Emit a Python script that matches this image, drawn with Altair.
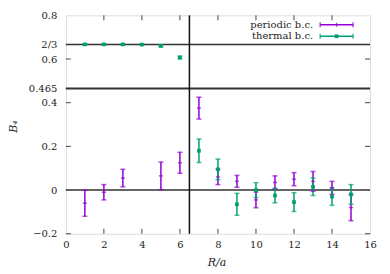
import altair as alt
import pandas as pd

# periodic b.c.
per_x = [1, 2, 3, 5, 6, 7, 8, 9, 10, 11, 12, 13, 14, 15]
per_y = [-0.06, -0.01, 0.055, 0.065, 0.125, 0.375, 0.06, 0.04, -0.045, 0.035, 0.05, 0.04, 0.01, -0.08]
per_e = [0.06, 0.035, 0.04, 0.063, 0.048, 0.05, 0.035, 0.027, 0.036, 0.03, 0.03, 0.045, 0.03, 0.06]
# thermal b.c.
th_x = [1, 2, 3, 4, 5, 6, 7, 8, 9, 10, 11, 12, 13, 14, 15]
th_y = [0.667, 0.667, 0.667, 0.666, 0.66, 0.607, 0.18, 0.095, -0.065, 0.0, -0.025, -0.055, 0.015, -0.03, -0.02]
th_e = [0.003, 0.003, 0.003, 0.003, 0.004, 0.006, 0.054, 0.047, 0.05, 0.034, 0.033, 0.043, 0.04, 0.04, 0.045]

series_names = ["periodic b.c.", "thermal b.c."]
colors = ["#9400D3", "#009E73"]
hlines = [2 / 3, 0.465, 0.0]
vline = [6.5]
y_ticks = [-0.2, 0, 0.2, 0.4, 0.465, 0.6, 2 / 3, 0.8]
y_minor = [-0.2, 0.2, 0.4, 0.6]
x_ticks = list(range(0, 17, 2))
x_minor = list(range(2, 15, 2))

W, H = 305, 219
FONT = "DejaVu Serif"

rows = []
for x, y, e in zip(per_x, per_y, per_e):
    rows.append(dict(x=x, y=y, lo=y - e, hi=y + e, s=series_names[0]))
for x, y, e in zip(th_x, th_y, th_e):
    rows.append(dict(x=x, y=y, lo=y - e, hi=y + e, s=series_names[1]))
df = pd.DataFrame(rows)

xs = alt.Scale(domain=[0, 16], nice=False, zero=False)
ys = alt.Scale(domain=[-0.2, 0.8], nice=False, zero=False)
cs = alt.Scale(domain=series_names, range=colors)

label_expr = ("abs(datum.value-0.6667)<0.001 ? '2/3' : abs(datum.value-0.465)<0.0001 ? '0.465' : "
              "replace(format(datum.value, '.1~f'), '-', '\u2212')")

xaxis = alt.Axis(values=x_ticks, ticks=False, grid=False, domain=False,
                 labelPadding=6, labelFontSize=10, labelFont=FONT,
                 labelColor="#222", format="d", labelOverlap=False, labelFlush=False,
                 title="R/a", titleFont=FONT, titleFontStyle="italic",
                 titleFontWeight="normal", titleFontSize=11,
                 titleX=151, titleY=29, titleBaseline="middle", titleColor="#222")
yaxis = alt.Axis(values=y_ticks, labelExpr=label_expr, ticks=False, grid=False,
                 domain=False, labelPadding=9, labelFontSize=10, labelFont=FONT,
                 labelColor="#222", labelOverlap=False, labelFlush=False,
                 title="B\u2084", titleFont=FONT, titleFontStyle="italic",
                 titleFontWeight="normal", titleFontSize=11, titleAngle=-90,
                 titleX=-52, titleY=111, titleAlign="center",
                 titleBaseline="middle", titleColor="#222")


def X(f):
    return alt.X(f, scale=xs, axis=xaxis)


def Y(f):
    return alt.Y(f, scale=ys, axis=yaxis)


base = alt.Chart(df)

hl = alt.Chart(pd.DataFrame({"y": hlines, "w": [1.5, 2.2, 1.5]})).mark_rule(color="#333").encode(
    y=Y("y:Q"), strokeWidth=alt.StrokeWidth("w:Q", scale=None))
vl = alt.Chart(pd.DataFrame({"x": vline})).mark_rule(color="#111", strokeWidth=1.5).encode(
    x=X("x:Q"))

ytl = alt.Chart(pd.DataFrame({"y": y_minor})).mark_rule(color="#444", strokeWidth=1).encode(
    y=Y("y:Q"), x=alt.value(0), x2=alt.value(5))
ytr = alt.Chart(pd.DataFrame({"y": y_minor})).mark_rule(color="#444", strokeWidth=1).encode(
    y=Y("y:Q"), x=alt.value(W - 5), x2=alt.value(W))
xtb = alt.Chart(pd.DataFrame({"x": x_minor})).mark_rule(color="#444", strokeWidth=1).encode(
    x=X("x:Q"), y=alt.value(H - 5), y2=alt.value(H))
xtt = alt.Chart(pd.DataFrame({"x": x_minor})).mark_rule(color="#444", strokeWidth=1).encode(
    x=X("x:Q"), y=alt.value(0), y2=alt.value(5))

col = alt.Color("s:N", scale=cs, legend=None)
bars = base.mark_rule(strokeWidth=1.5).encode(
    x=X("x:Q"), y=Y("lo:Q"), y2="hi:Q", color=col)
cap_lo = base.mark_tick(orient="horizontal", size=5, thickness=1.5).encode(
    x=X("x:Q"), y=Y("lo:Q"), color=col)
cap_hi = base.mark_tick(orient="horizontal", size=5, thickness=1.5).encode(
    x=X("x:Q"), y=Y("hi:Q"), color=col)
ctr_p = base.transform_filter(alt.datum.s == series_names[0]).mark_tick(
    orient="horizontal", size=4, thickness=1.5).encode(
    x=X("x:Q"), y=Y("y:Q"), color=col)
ctr_t = base.transform_filter(alt.datum.s == series_names[1]).mark_square(
    size=14, opacity=1, filled=True).encode(
    x=X("x:Q"), y=Y("y:Q"), color=col)

# legend
leg = pd.DataFrame({"s": series_names, "ly": [9.5, 21]})
leg_text = alt.Chart(leg).mark_text(align="right", baseline="middle", font=FONT, fontSize=10,
                                    color="#222").encode(
    text="s:N", x=alt.value(248), y=alt.Y("ly:Q", scale=None))
leg_line = alt.Chart(leg).mark_rule(strokeWidth=1.5).encode(
    x=alt.value(255), x2=alt.value(288), y=alt.Y("ly:Q", scale=None), color=col)
leg_capl = alt.Chart(leg).mark_tick(orient="vertical", size=5, thickness=1.5).encode(
    x=alt.value(255), y=alt.Y("ly:Q", scale=None), color=col)
leg_capr = alt.Chart(leg).mark_tick(orient="vertical", size=5, thickness=1.5).encode(
    x=alt.value(288), y=alt.Y("ly:Q", scale=None), color=col)
leg_ctr_p = alt.Chart(leg).transform_filter(alt.datum.s == series_names[0]).mark_tick(
    orient="vertical", size=4, thickness=1.5).encode(
    x=alt.value(271.5), y=alt.Y("ly:Q", scale=None), color=col)
leg_ctr_t = alt.Chart(leg).transform_filter(alt.datum.s == series_names[1]).mark_square(
    size=14, opacity=1, filled=True).encode(
    x=alt.value(271.5), y=alt.Y("ly:Q", scale=None), color=col)

chart = alt.layer(
    hl, vl, ytl, ytr, xtb, xtt, bars, cap_lo, cap_hi, ctr_p, ctr_t,
    leg_text, leg_line, leg_capl, leg_capr, leg_ctr_p, leg_ctr_t
).properties(
    width=W, height=H,
    autosize=alt.AutoSizeParams(type="none"),
    padding={"left": 58, "top": 7, "right": 12, "bottom": 40},
).configure_view(stroke="#333", strokeWidth=1).configure_axis(
    labelOverlap=False, labelFont=FONT
).configure(background="white", font=FONT)

chart.save("out.html", embed_options={"renderer": "svg", "actions": False})
